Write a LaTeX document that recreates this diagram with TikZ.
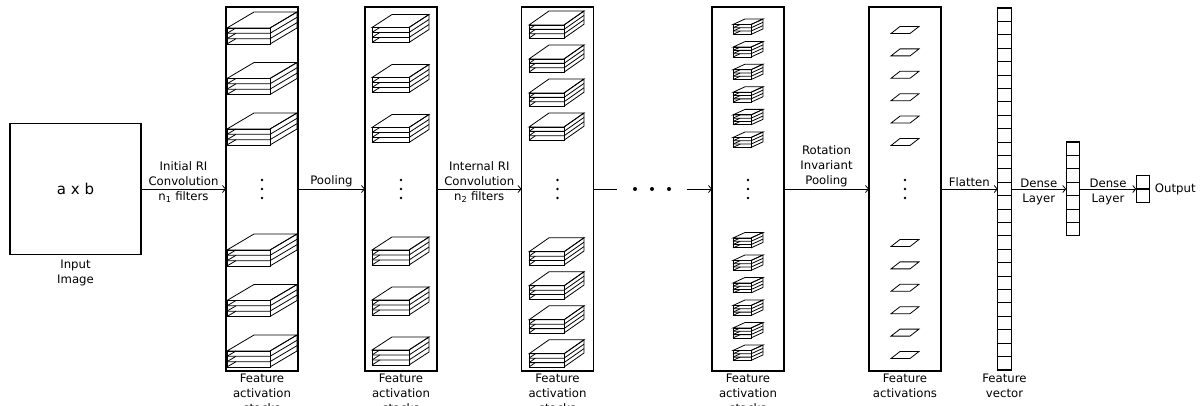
\documentclass[tikz,border=0pt]{standalone}
\usepackage{fontspec}
\setmainfont{DejaVu Sans}
\usetikzlibrary{arrows.meta,positioning}

% stack of three feature maps, (#1,#2) = top left corner of the front face
% #3 width, #4/#5 depth offset, #6 thickness of one map
\newcommand{\fmapstack}[6]{%
  \begin{scope}[shift={(#1,#2)}, line width=0.8pt]
    \draw (0,0) -- (#4,-#5) -- (#3+#4,-#5) -- (#3,0) -- cycle;
    \draw (0,0) rectangle (#3,3*#6);
    \draw (#3,0) -- (#3+#4,-#5) -- (#3+#4,3*#6-#5) -- (#3,3*#6);
    \foreach \k in {1,2}
      \draw (0,\k*#6) -- (#3,\k*#6) -- (#3+#4,\k*#6-#5);
    \foreach \k in {1,2,3}
      \draw (0,\k*#6) -- ({#6*#4/#5},{(\k-1)*#6});
  \end{scope}}

% horizontal lines splitting a cell column, #2 = number of cells - 1
\newcommand{\celldividers}[2]{%
  \foreach \k in {1,...,#2}
    \draw[line width=1.1pt] (#1.north west) ++(0,\k*13.4) -- ++(13.5,0);}

\begin{document}
\begin{tikzpicture}[x=1pt, y=-1pt,
    every node/.style={font=\fontsize{11.7}{15}\selectfont, inner sep=0pt},
    col/.style={draw, line width=1.3pt, minimum width=72pt, minimum height=364pt, outer sep=0pt},
    cellcol/.style={draw, line width=1.2pt, minimum width=13.5pt, outer sep=0pt},
    conn/.style={-{Straight Barb[length=3pt,width=7pt]}, line width=0.8pt},
    lbl/.style={align=center}]
  \useasboundingbox (0,0) rectangle (1200,406);

  % input image
  \node[draw, line width=1.3pt, minimum size=131pt, outer sep=0pt] (img) at (75.5,189)
    {\fontsize{15}{18}\selectfont a x b};
  \node[lbl, below=5pt of img] {Input\\Image};

  % activation columns
  \node[col] (c1) at (262,189) {};
  \node[col] (c2) at (401,189) {};
  \node[col] (c3) at (557.5,189) {};
  \node[col] (c4) at (748,189) {};
  \node[col] (c5) at (905,189) {};
  \node[lbl, below=2.5pt of c1] {Feature\\activation\\stacks};
  \node[lbl, below=2.5pt of c2] {Feature\\activation\\stacks};
  \node[lbl, below=2.5pt of c3] {Feature\\activation\\stacks};
  \node[lbl, below=2.5pt of c4] {Feature\\activation\\stacks};
  \node[lbl, below=2.5pt of c5] {Feature\\activations};

  % feature maps inside the columns
  \foreach \y in {28,78.5,129,250,300.5,351} {\fmapstack{227}{\y}{43}{27}{16}{5.33}}
  \foreach \y in {27.5,77.5,127.5,250,300,350} {\fmapstack{372}{\y}{37}{20}{13}{5}}
  \foreach \y in {25,59,93,127,251.8,285.8,319.8,353.8} {\fmapstack{529}{\y}{35}{20}{14}{4.4}}
  \foreach \y in {24.5,47.1,69.7,92.3,114.9,137.5,238,260.5,283,305.5,328,350.5}
    {\fmapstack{733}{\y}{18}{12}{5.5}{3.3}}
  \foreach \y in {30,52.4,74.8,97.2,119.6,142,243,265.4,287.8,310.2,332.6,355}
    \draw[line width=0.8pt] (891,\y+3.5) -- (910,\y+3.5) -- (919,\y-3.5) -- (900,\y-3.5) -- cycle;
  \foreach \x in {262,401,557.5,748,905}
    \foreach \y in {180,189,198}
      \fill (\x,\y) circle (1.3pt);

  % flattened vector and dense layers
  \node[cellcol, minimum height=361.8pt] (vec) at (1004.5,189) {};
  \celldividers{vec}{26}
  \node[lbl, below=3.5pt of vec] {Feature\\vector};
  \node[cellcol, minimum height=93.8pt] (dense) at (1073,189) {};
  \celldividers{dense}{6}
  \node[cellcol, minimum height=26.8pt] (out) at (1143,189) {};
  \celldividers{out}{1}
  \node[right=5pt of out] {Output};

  % skipped layers
  \node[minimum width=69pt] (etc) at (652,189) {};
  \foreach \x in {635,652,669}
    \fill (\x,189) circle (2pt);

  % connectors
  \draw[conn] (img) -- node[lbl, yshift=7pt] {Initial RI\\Convolution\\n\textsubscript{1} filters} (c1);
  \draw[conn] (c1) -- node[above=1.5pt] {Pooling} (c2);
  \draw[conn] (c2) -- node[lbl, yshift=7pt] {Internal RI\\Convolution\\n\textsubscript{2} filters} (c3);
  \draw[line width=0.8pt] (c3) -- (etc);
  \draw[conn] (etc) -- (c4);
  \draw[conn] (c4) -- node[lbl, above=1.5pt] {Rotation\\Invariant\\Pooling} (c5);
  \draw[conn] (c5) -- node[above=1.5pt] {Flatten} (vec);
  \draw[conn] (vec) -- node[lbl, yshift=-2.5pt] {Dense\\Layer} (dense);
  \draw[conn] (dense) -- node[lbl, yshift=-2.5pt] {Dense\\Layer} (out);
\end{tikzpicture}
\end{document}
